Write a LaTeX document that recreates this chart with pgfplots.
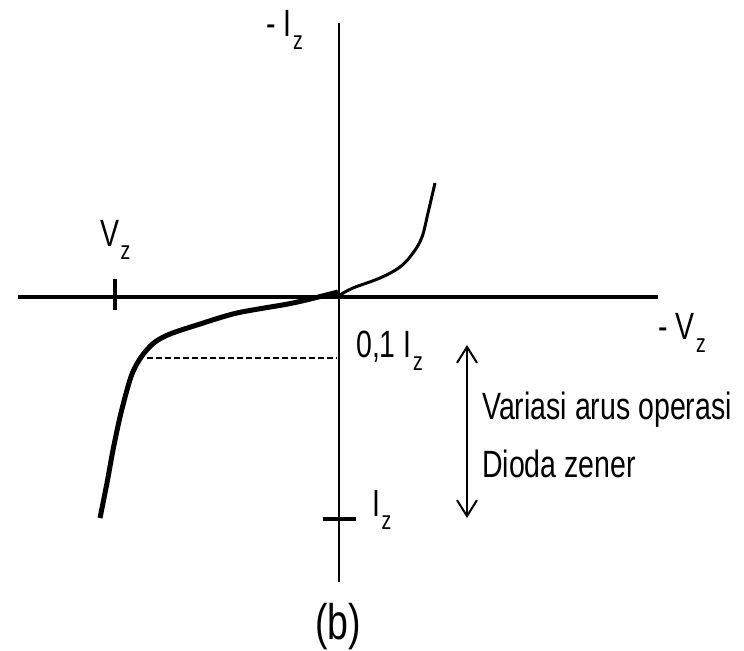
\documentclass[border=0pt]{standalone}
\usepackage{pgfplots}
\pgfplotsset{compat=1.18}
\usepackage{fontspec}
\setmainfont{Liberation Sans}[FakeStretch=0.75]
\usetikzlibrary{arrows.meta}

% label font and a lowered subscript in the text font
\newcommand\lbl{\fontsize{38}{44}\selectfont}
\newcommand\sub[1]{\kern1.5pt\raisebox{-13pt}{\fontsize{26}{26}\selectfont #1}}

\begin{document}
\begin{tikzpicture}
\begin{axis}[
  scale only axis, width=744pt, height=649pt,
  xmin=0, xmax=744, ymin=0, ymax=649,
  hide axis, clip=false,
]
\path (rel axis cs:0,0) rectangle (rel axis cs:1,1);

% axes
\addplot[black, line width=4pt] coordinates {(18,352) (658,352)};
\addplot[black, line width=2pt] coordinates {(339,626) (339,67)};

% tick marks at V_z and I_z
\addplot[black, line width=3.5pt] coordinates {(115,370) (115,339)};
\addplot[black, line width=3.5pt] coordinates {(323,130) (356,130)};

% forward branch
\addplot[black, line width=3pt, smooth, tension=0.6] coordinates {
  (340,354) (353,361) (380,371) (400,382) (413,396) (422,412) (428,436) (435,466)};

% reverse (breakdown) branch
\addplot[black, line width=5pt, smooth, tension=0.5, line join=round] coordinates {
  (338,357) (293,346) (237,336) (197,324) (170,315) (155,307) (145,297)
  (138,287) (132,275) (127,259) (120,232) (113,199) (107,166) (100,131)};

% 0,1 I_z level
\addplot[black, line width=2pt, dash pattern=on 6pt off 3pt] coordinates {(147,291) (337,291)};

% operating current range
\addplot[black, line width=2pt, {Straight Barb[length=16pt,width=20pt,line width=2pt]}-{Straight Barb[length=16pt,width=20pt,line width=2pt]}]
  coordinates {(467,304) (467,131)};

% labels
\node[anchor=base west, inner sep=0] at (axis cs:266,612) {\lbl - I\sub{z}};
\node[anchor=base west, inner sep=0] at (axis cs:100,402) {\lbl V\sub{z}};
\node[anchor=base west, inner sep=0] at (axis cs:658,309) {\lbl - V\sub{z}};
\node[anchor=base west, inner sep=0] at (axis cs:356,291) {\lbl 0,1 I\sub{z}};
\node[anchor=base west, inner sep=0] at (axis cs:372,132) {\lbl I\sub{z}};
\node[anchor=base west, inner sep=0] at (axis cs:482,229) {\lbl Variasi arus operasi};
\node[anchor=base west, inner sep=0] at (axis cs:482,171) {\lbl Dioda zener};
\node[anchor=base, inner sep=0] at (axis cs:338,9) {\fontsize{50}{56}\selectfont (b)};
\end{axis}
\end{tikzpicture}
\end{document}
